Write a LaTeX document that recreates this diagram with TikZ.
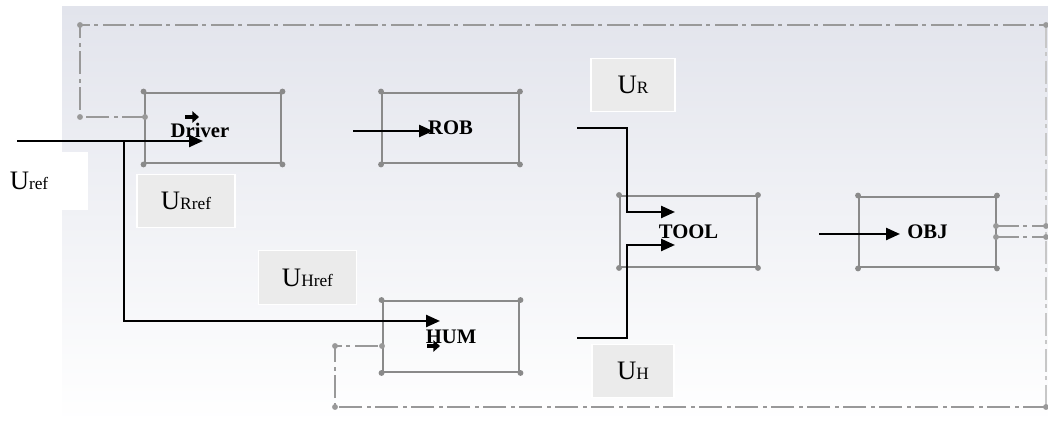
\documentclass[tikz,border=0pt]{standalone}
\usepackage{fontspec}
\setmainfont{Liberation Serif}
\usepackage{xcolor}
\usetikzlibrary{arrows.meta,calc,positioning}
\definecolor{frameGray}{HTML}{8A8A8A}
\definecolor{loopGray}{HTML}{999999}
\definecolor{labelGray}{HTML}{EBEBEB}
\definecolor{paneTop}{HTML}{E2E4EC}
\definecolor{paneMid}{HTML}{DCDFE9}
\newcommand{\uSub}[1]{{\fontsize{13}{13}\selectfont #1}}

\begin{document}
\begin{tikzpicture}[x=0.75pt,y=-0.75pt,>={Triangle[length=10.5pt,width=9pt]},
    block/.style={draw=frameGray,line width=1.7pt,minimum width=102.5pt,
      minimum height=53pt,inner sep=0pt,font=\bfseries\fontsize{15.5}{17}\selectfont},
    blockname/.style={font=\bfseries\fontsize{15.5}{17}\selectfont,inner sep=0pt},
    sig/.style={line width=1.8pt,->},
    tinyArrow/.style={line width=3.4pt,-{Triangle[length=5pt,width=8.5pt]}},
    fb/.style={loopGray,line width=1.2pt,dash pattern=on 17pt off 3.5pt on 3pt off 3.5pt},
    tag/.style={fill=labelGray,draw=white,line width=0.8pt,minimum height=40pt,
      inner sep=0pt,font=\fontsize{20}{22}\selectfont}]
    \useasboundingbox (0,0) rectangle (1048,423);
    \fill[white] (0,0) rectangle (1048,423);
    \shade[top color=paneTop,middle color=paneMid,bottom color=white]
      (62,7) rectangle (1048,423);

    % blocks
    \node[block] (drv) at (213,128) {};
    \node[blockname] (drvName) at (200,130) {Driver};
    \node[block] (rob) at (450.5,128) {ROB};
    \node[block] (hum) at (451,336.5) {HUM};
    \node[block] (tool) at (688.5,231.5) {TOOL};
    \node[block] (obj) at (927.5,232) {OBJ};
    \foreach \b in {drv,rob,hum,tool,obj}
      \foreach \c in {north west,north east,south west,south east}
        \fill[frameGray] (\b.\c) circle[radius=2.2pt];

    % signal labels
    \fill[white] (0,152) rectangle (88,210);
    \node[font=\fontsize{20}{22}\selectfont,inner sep=0pt] (uRef) at (29,181) {U\uSub{ref}};
    \node[tag,minimum width=73.5pt] (uRRef) at (186,201) {U\uSub{Rref}};
    \node[tag,minimum width=74pt] (uHRef) at (307.5,277.5) {U\uSub{Href}};
    \node[tag,minimum width=63pt] (uR) at (633,85) {U\uSub{R}};
    \node[tag,minimum width=61.5pt] (uH) at (633,371) {U\uSub{H}};

    % feedback loops
    \coordinate (drvFb) at (145,117);
    \coordinate (humFb) at (382,346);
    \coordinate (objFbA) at (996,226);
    \coordinate (objFbB) at (996,237);
    \draw[fb] (drvFb) -- (80,117) -- (80,25) -- (1046,25);
    \draw[fb,loopGray!55] (1046,25) -- (1046,407);
    \draw[fb] (1046,407) -- (335,407) -- (335,346) -- (humFb);
    \draw[fb] (objFbA) -- (1046,226);
    \draw[fb] (objFbB) -- (1046,237);
    \foreach \p in {(drvFb),(80,117),(80,25),(1046,25),(1046,407),(335,407),
        (335,346),(humFb),(objFbA),(objFbB),(1046,226),(1046,237)}
      \fill[loopGray] \p circle[radius=2.2pt];

    % signals
    \coordinate (inL) at (17,141);
    \coordinate (split) at (124,141);
    \coordinate (drvIn) at (203,141);
    \coordinate (humIn) at (440,321);
    \coordinate (robL) at (353,131);
    \coordinate (robIn) at (433,131);
    \coordinate (robOut) at (577,128);
    \coordinate (humOut) at (577,338);
    \coordinate (toolA) at (675,212);
    \coordinate (toolB) at (675,245);
    \coordinate (objL) at (819,234);
    \coordinate (objIn) at (900,234);
    \draw[sig] (inL) -- (drvIn);
    \draw[sig] (split) |- (humIn);
    \draw[sig] (robL) -- (robIn);
    \draw[sig] (robOut) -- ++(50,0) |- (toolA);
    \draw[sig] (humOut) -- ++(50,0) |- (toolB);
    \draw[sig] (objL) -- (objIn);
    \draw[tinyArrow] (185,117) -- (199,117);
    \draw[tinyArrow] (427,346) -- (440,346);
  \end{tikzpicture}
\end{document}
